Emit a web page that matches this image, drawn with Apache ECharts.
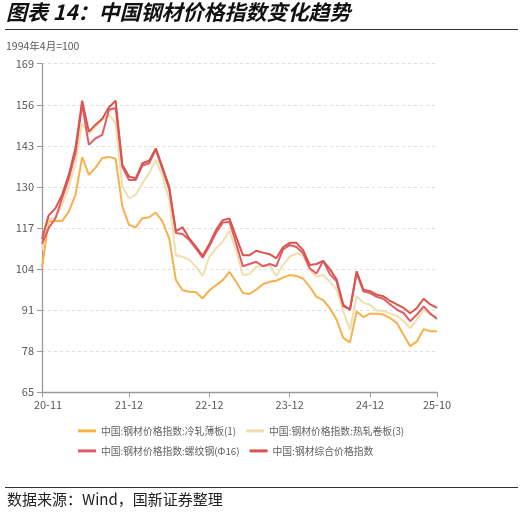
<!DOCTYPE html>
<html>
<head>
<meta charset="utf-8">
<script src="https://cdn.jsdelivr.net/npm/echarts@6/dist/echarts.min.js"></script>
<style>
html,body{margin:0;padding:0;background:#fff;}
#c{width:525px;height:516px;}
</style>
</head>
<body>
<div id="c"></div>
<script>
var categories = ['20-11','20-12',
'21-01','21-02','21-03','21-04','21-05','21-06','21-07','21-08','21-09','21-10','21-11','21-12',
'22-01','22-02','22-03','22-04','22-05','22-06','22-07','22-08','22-09','22-10','22-11','22-12',
'23-01','23-02','23-03','23-04','23-05','23-06','23-07','23-08','23-09','23-10','23-11','23-12',
'24-01','24-02','24-03','24-04','24-05','24-06','24-07','24-08','24-09','24-10','24-11','24-12',
'25-01','25-02','25-03','25-04','25-05','25-06','25-07','25-08','25-09','25-10'];

var tickLabels = ['20-11','21-12','22-12','23-12','24-12','25-10'];
var yTicks = [65, 78, 91, 104, 117, 130, 143, 156, 169];

var coldRolled = [104.5,119,119.2,119.2,122.2,127.5,139.4,133.8,136.1,139.1,139.5,138.9,123.8,118,117.2,
120.1,120.4,121.9,119,113.7,100.5,97.3,96.8,96.7,94.7,97.3,98.9,100.5,103.1,100,
96.4,96.1,97.5,99.2,100,100.3,101.3,102.1,101.8,101,98.4,95.2,94.2,91.6,88,
82.2,80.8,90.6,88.8,89.9,89.9,89.6,88.5,86.9,83.2,79.6,81.1,85,84.3,84.3];

var hotRolled = [110,119.8,120.2,124.3,130,137.5,150,146.7,149,151.2,152.8,150.2,130.1,126.4,127.5,
131.2,134.3,138.6,133.3,125.9,108.4,107.9,107,104.7,101.8,107.9,110.5,112.7,116.1,110,
102.1,102.4,104.7,104.9,105.3,101.8,105.3,107.9,109,108.4,103.7,101.6,102.1,100,97.5,
90.6,84.8,95.4,93.3,92.7,90.9,90.8,89.9,89.2,87.5,85.3,88,91.1,89.6,89];

var rebar = [112,117,120,126.4,132.7,140.7,156,143.3,145.4,146.5,154.4,155,136.4,132.2,132.2,
136.8,137.5,141.8,135.5,129.3,115.4,115.1,113.2,110.5,107.6,111.3,115.5,118.7,119,112.1,
104.9,105.6,106.3,104.9,105.6,104.9,110.2,111.6,111,109,104.2,102.6,106.6,102.4,100.1,
92.2,91.3,102.7,97,96.4,95.2,94.6,92.8,91.2,90.1,87.5,89.6,92.2,89.9,88.2];

var composite = [113.5,121,123.2,127.5,133.8,142.3,157.3,147.5,149.7,151.6,155.2,157.3,137,133.3,132.7,
137.5,138.3,142.2,136.2,130,116,117.2,113.7,111,108.2,111.9,116.4,119.5,120,114.2,
108.4,108.4,109.8,109.2,108.7,107.4,110.9,112.3,112.3,110,105.3,105.6,106.6,104,100.8,
92.7,91.1,103.3,97.5,97,95.9,95.4,93.9,92.8,91.7,90,91.7,94.6,92.8,91.7];

var names = ['中国:钢材价格指数:冷轧薄板(1)','中国:钢材价格指数:热轧卷板(3)','中国:钢材价格指数:螺纹钢(Φ16)','中国:钢材综合价格指数'];
var colors = ['#F8B14A','#EEDFAD','#E25C68','#D9544C'];

var FONT = '"Noto Sans CJK SC","Noto Sans",sans-serif';
var chart = echarts.init(document.getElementById('c'), null, {renderer:'canvas'});

function showLabel(idx){ return tickLabels.indexOf(categories[idx]) >= 0; }

var legendText = {color:'#5f5f5f', fontSize:9.8, fontFamily:FONT};

var option = {
  backgroundColor:'#fff',
  animation:false,
  textStyle:{fontFamily:FONT},
  grid:{left:42, right:88, top:63.7, bottom:123.7, containLabel:false},
  xAxis:{
    type:'category', data:categories, boundaryGap:false,
    axisLine:{lineStyle:{color:'#9a9a9a', width:1.3}},
    axisTick:{show:true, interval:function(i){return showLabel(i);}, length:5, lineStyle:{color:'#9a9a9a'}},
    axisLabel:{
      interval:function(i){return showLabel(i);}, color:'#595959', fontSize:11, margin:7, fontFamily:FONT,
      formatter:function(v, i){ return i === 0 ? '{f|' + v + '}' : v; },
      rich:{f:{color:'#595959', fontSize:11, fontFamily:FONT, padding:[0,0,0,12]}}
    },
    splitLine:{show:false}
  },
  yAxis:{
    type:'value', min:yTicks[0], max:yTicks[yTicks.length-1], interval:13,
    axisLine:{show:true, lineStyle:{color:'#9a9a9a', width:1.3}},
    axisTick:{show:true, length:5, lineStyle:{color:'#9a9a9a'}},
    axisLabel:{color:'#595959', fontSize:11, margin:8, fontFamily:FONT},
    splitLine:{show:true, lineStyle:{color:'#dedede', type:[3,3], width:1}}
  },
  legend:[
    {data:[names[0],names[1]], left:73, top:421, itemWidth:18, itemHeight:3, icon:'rect', itemGap:10, textStyle:legendText},
    {data:[names[2],names[3]], left:73, top:441, itemWidth:18, itemHeight:3, icon:'rect', itemGap:10, textStyle:legendText}
  ],
  series:[
    {name:names[0], type:'line', data:coldRolled, symbol:'none', lineStyle:{width:2, color:colors[0]}, itemStyle:{color:colors[0]}},
    {name:names[1], type:'line', data:hotRolled, symbol:'none', lineStyle:{width:2, color:colors[1]}, itemStyle:{color:colors[1]}},
    {name:names[2], type:'line', data:rebar, symbol:'none', lineStyle:{width:2, color:colors[2]}, itemStyle:{color:colors[2]}},
    {name:names[3], type:'line', data:composite, symbol:'none', lineStyle:{width:2, color:colors[3]}, itemStyle:{color:colors[3]}}
  ],
  graphic:[
    {type:'text', left:6, top:2, style:{text:'图表 14：中国钢材价格指数变化趋势', fontSize:21, fontWeight:'bold', fontStyle:'italic', fill:'#111', fontFamily:FONT}},
    {type:'line', shape:{x1:5, y1:29.5, x2:518, y2:29.5}, style:{stroke:'#333', lineWidth:1.2}},
    {type:'text', left:6, top:41, style:{text:'1994年4月=100', fontSize:10.5, fill:'#595959', fontFamily:FONT}},
    {type:'line', shape:{x1:5, y1:487.5, x2:518, y2:487.5}, style:{stroke:'#333', lineWidth:1.2}},
    {type:'text', left:7, top:492, style:{text:'数据来源：Wind，国新证券整理', fontSize:15, fill:'#222', fontFamily:FONT}}
  ]
};
chart.setOption(option);
</script>
</body>
</html>
